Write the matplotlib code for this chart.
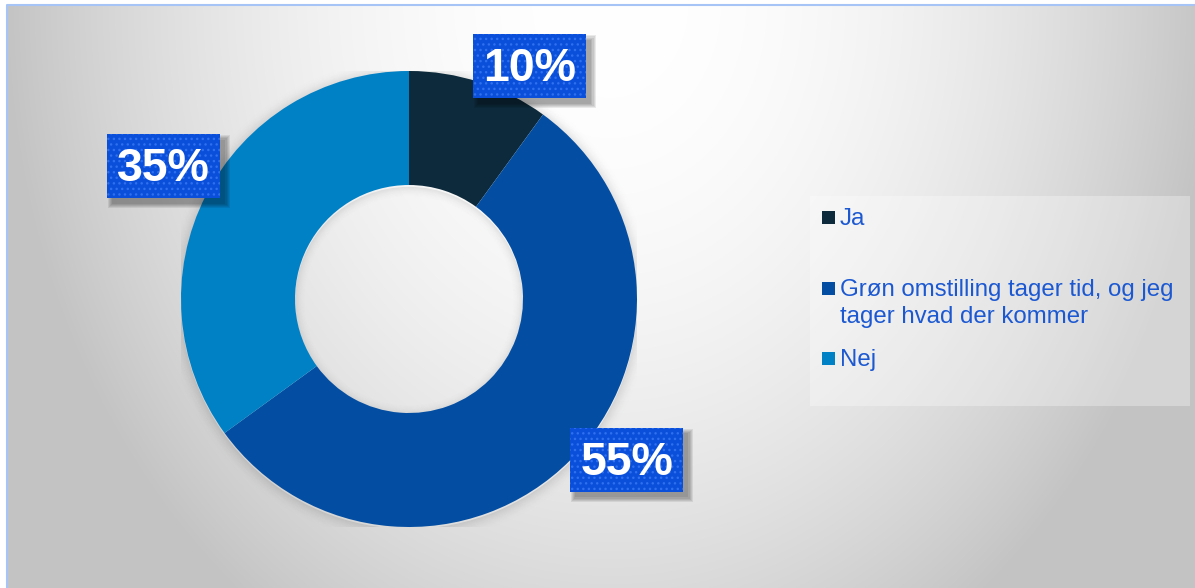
import numpy as np
import matplotlib.pyplot as plt
from matplotlib.patches import Rectangle, Wedge

plt.rcParams['font.family'] = ['Liberation Sans', 'DejaVu Sans']

# data
labels = ['Ja', 'Grøn omstilling tager tid, og jeg\ntager hvad der kommer', 'Nej']
values = [10, 55, 35]
colors = ['#0c2a3b', '#034ea2', '#0080c5']
pct_labels = ['10%', '55%', '35%']

W, H = 1195, 588
fig = plt.figure(figsize=(W / 100, H / 100), dpi=100)
fig.patch.set_facecolor('white')

# background with soft grey gradient
bg = fig.add_axes([0, 0, 1, 1])
bg.set_xlim(0, W)
bg.set_ylim(H, 0)
bg.axis('off')
yy, xx = np.mgrid[5:H, 7:W]
d2 = ((xx - 610) / 600.0) ** 2 + ((yy - 0) / 745.0) ** 2
shade = np.clip(1.0 - 0.23 * d2, 0.765, 1.0)
bg.imshow(np.dstack([shade] * 3), extent=(7, W, H, 5), aspect='auto', zorder=0)
bg.plot([7, 7, W], [H, 5, 5], color='#a6c4f5', lw=1.5, zorder=1)

# legend (drawn by hand to follow the original spacing)
bg.add_patch(Rectangle((810, 196), 380, 210, fc='white', alpha=0.3, lw=0, zorder=2))
legend_base = [225, 296, 366]
for lab, col, yb in zip(labels, colors, legend_base):
    bg.add_patch(Rectangle((822, yb - 14), 13, 13, fc=col, lw=0, zorder=3))
    for k, line in enumerate(lab.split('\n')):
        bg.text(840, yb + k * 27, line, fontsize=17.3, color='#1b58d2',
                va='baseline', ha='left', zorder=3)

# donut
ax = fig.add_axes([181 / W, 61 / H, 456 / W, 456 / H])
ax.patch.set_alpha(0)

# soft shadow around the ring
n = 14
for i in range(n):
    t = i / n
    a = 0.10 * (1 - t) ** 2
    ax.add_patch(Wedge((0, -0.008), 1 + (i + 1) * 0.0045, 0, 360, width=0.0045,
                       fc='black', alpha=a, lw=0, zorder=1))
    ax.add_patch(Wedge((0, -0.008), 0.5 - i * 0.0035, 0, 360, width=0.0035,
                       fc='black', alpha=a * 0.8, lw=0, zorder=1))

wedges, _ = ax.pie(values, colors=colors, startangle=90, counterclock=False,
                   radius=1, wedgeprops=dict(width=0.5, linewidth=0))
for w in wedges:
    w.set_zorder(2)
ax.set_xlim(-1, 1)
ax.set_ylim(-1, 1)
ax.set_aspect('equal')
ax.axis('off')

# data labels in blue boxes
label_pos = [(0.53, 1.02), (0.956, -0.706), (-1.075, 0.583)]
bw, bh = 113 / 228, 64 / 228
for txt, (x, y) in zip(pct_labels, label_pos):
    for j in range(5):
        g = j * 0.005
        ax.add_patch(Rectangle((x - bw / 2 + 0.022 - g, y - bh / 2 - 0.024 - g),
                               bw + 2 * g, bh + 2 * g, fc='black', alpha=0.08,
                               lw=0, zorder=5, clip_on=False))
    ax.add_patch(Rectangle((x - bw / 2, y - bh / 2), bw, bh, fc='#0a4fd9',
                           lw=0, zorder=6, clip_on=False))
    ax.add_patch(Rectangle((x - bw / 2, y - bh / 2), bw, bh, fc='none',
                           ec='#2f70f0', lw=0, hatch='...', zorder=7, clip_on=False))
    ax.text(x, y - 0.012, txt, color='white', fontsize=33.5, fontweight='bold',
            ha='center', va='center', zorder=8, clip_on=False)

fig.savefig('out.png', dpi=100)
